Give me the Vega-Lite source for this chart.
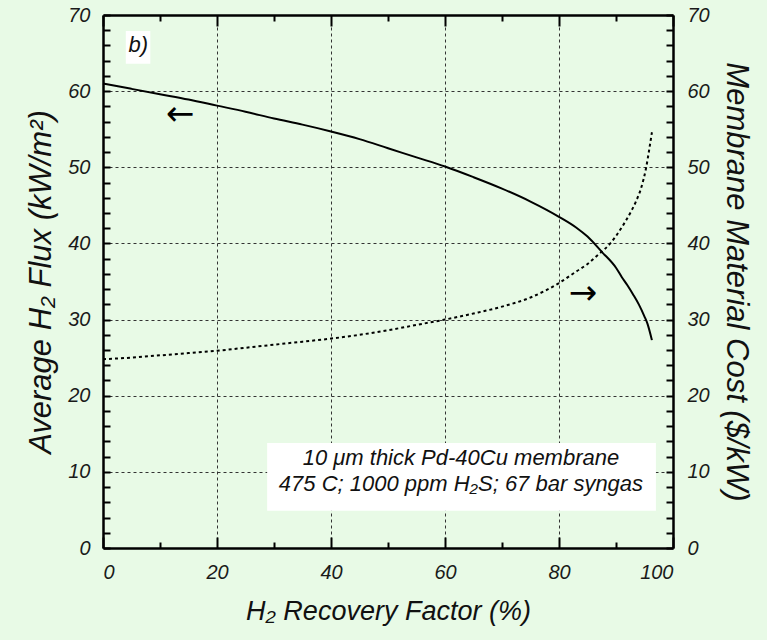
{
  "$schema": "https://vega.github.io/schema/vega-lite/v6.json",
  "width": 570,
  "height": 533,
  "autosize": {"type": "none"},
  "padding": {"left": 103, "top": 15, "right": 94, "bottom": 92},
  "background": "#e8fae6",
  "config": {
    "view": {"stroke": null},
    "font": "Liberation Sans",
    "axis": {
      "domainColor": "#000000",
      "domainWidth": 2.5,
      "tickColor": "#000000",
      "tickWidth": 2,
      "labelFont": "Liberation Sans",
      "labelFontStyle": "italic",
      "labelFontSize": 20,
      "labelColor": "#1a1a1a",
      "titleFont": "Liberation Sans",
      "titleFontStyle": "italic",
      "titleFontWeight": "normal",
      "titleFontSize": 31,
      "titleColor": "#111111",
      "gridColor": "#333333",
      "gridDash": [3, 3],
      "gridWidth": 1
    }
  },
  "datasets": {
    "flux": [
      {"x": 0, "y": 61.0},
      {"x": 5, "y": 60.3},
      {"x": 10, "y": 59.6},
      {"x": 15, "y": 58.9},
      {"x": 20, "y": 58.1},
      {"x": 25, "y": 57.3},
      {"x": 30, "y": 56.4},
      {"x": 35, "y": 55.6},
      {"x": 40, "y": 54.7},
      {"x": 45, "y": 53.7},
      {"x": 50, "y": 52.5},
      {"x": 55, "y": 51.3},
      {"x": 60, "y": 50.1},
      {"x": 65, "y": 48.7},
      {"x": 70, "y": 47.2},
      {"x": 75, "y": 45.5},
      {"x": 80, "y": 43.5},
      {"x": 83, "y": 42.1},
      {"x": 85, "y": 40.9},
      {"x": 87.5, "y": 38.9},
      {"x": 90, "y": 36.8},
      {"x": 91, "y": 35.6},
      {"x": 92, "y": 34.5},
      {"x": 93, "y": 33.3},
      {"x": 94, "y": 32.0},
      {"x": 95, "y": 30.4},
      {"x": 95.5, "y": 29.5},
      {"x": 96.3, "y": 27.3}
    ],
    "cost": [
      {"recovery": 0, "cost": 24.8},
      {"recovery": 5, "cost": 25.0},
      {"recovery": 10, "cost": 25.3},
      {"recovery": 15, "cost": 25.6},
      {"recovery": 20, "cost": 25.9},
      {"recovery": 25, "cost": 26.3},
      {"recovery": 30, "cost": 26.7},
      {"recovery": 35, "cost": 27.1},
      {"recovery": 40, "cost": 27.5},
      {"recovery": 45, "cost": 28.0},
      {"recovery": 50, "cost": 28.6},
      {"recovery": 55, "cost": 29.3},
      {"recovery": 60, "cost": 30.0},
      {"recovery": 65, "cost": 30.8},
      {"recovery": 70, "cost": 31.7},
      {"recovery": 75, "cost": 32.9},
      {"recovery": 80, "cost": 34.8},
      {"recovery": 83, "cost": 36.3},
      {"recovery": 85, "cost": 37.3},
      {"recovery": 87, "cost": 38.6},
      {"recovery": 89, "cost": 40.0},
      {"recovery": 91, "cost": 42.1},
      {"recovery": 92.5, "cost": 44.0},
      {"recovery": 93.5, "cost": 45.5},
      {"recovery": 94.5, "cost": 47.5},
      {"recovery": 95.3, "cost": 50.0},
      {"recovery": 95.8, "cost": 52.2},
      {"recovery": 96.3, "cost": 54.6}
    ],
    "boxes": [
      {"x": 28.8, "x2": 97.0, "y": 4.9, "y2": 13.8},
      {"x": 4.0, "x2": 8.3, "y": 63.6, "y2": 67.9}
    ],
    "notes": [
      {"x": 62.8, "y": 11.8, "text": "10 μm thick Pd-40Cu membrane"},
      {"x": 62.8, "y": 8.4, "text": "475 C; 1000 ppm H₂S; 67 bar syngas"},
      {"x": 6.2, "y": 66.0, "text": "b)"}
    ],
    "arrows": [
      {"x": 13.5, "y": 56.9, "text": "←"},
      {"x": 84.2, "y": 33.4, "text": "→"}
    ]
  },
  "layer": [
    {
      "encoding": {
        "x": {
          "field": "x", "type": "quantitative",
          "scale": {"domain": [0, 100], "nice": false, "zero": false},
          "axis": {
            "orient": "bottom",
            "values": [0, 10, 20, 30, 40, 50, 60, 70, 80, 90, 100],
            "labelExpr": "datum.value % 20 === 0 ? datum.label : ''",
            "grid": true,
            "gridOpacity": {"condition": {"test": "datum.value % 20 === 0 && datum.value > 0 && datum.value < 100", "value": 1}, "value": 0},
            "tickSize": {"condition": {"test": "datum.value % 20 === 0", "value": -11}, "value": -6},
            "labelPadding": 25,
            "title": "H₂ Recovery Factor (%)",
            "titleFontSize": 27,
            "titlePadding": 16
          }
        },
        "y": {
          "field": "y", "type": "quantitative",
          "scale": {"domain": [0, 70], "nice": false, "zero": true},
          "axis": {
            "orient": "left",
            "values": [0, 2, 4, 6, 8, 10, 12, 14, 16, 18, 20, 22, 24, 26, 28, 30, 32, 34, 36, 38, 40, 42, 44, 46, 48, 50, 52, 54, 56, 58, 60, 62, 64, 66, 68, 70],
            "labelExpr": "datum.value % 10 === 0 ? datum.label : ''",
            "grid": true,
            "gridOpacity": {"condition": {"test": "datum.value % 10 === 0 && datum.value > 0 && datum.value < 70", "value": 1}, "value": 0},
            "tickSize": -7,
            "labelPadding": 20,
            "title": "Average H₂ Flux (kW/m²)",
            "titlePadding": 10
          }
        }
      },
      "layer": [
        {
          "data": {"name": "flux"},
          "mark": {"type": "line", "color": "#000000", "strokeWidth": 2, "interpolate": "monotone"}
        },
        {
          "data": {"name": "boxes"},
          "mark": {"type": "rect", "fill": "#ffffff"},
          "encoding": {
            "x2": {"field": "x2"},
            "y2": {"field": "y2"}
          }
        },
        {
          "data": {"name": "notes"},
          "mark": {"type": "text", "font": "Liberation Sans", "fontStyle": "italic", "fontSize": 22, "color": "#111111", "align": "center", "baseline": "middle"},
          "encoding": {
            "text": {"field": "text"}
          }
        },
        {
          "data": {"name": "arrows"},
          "mark": {"type": "text", "font": "DejaVu Sans", "fontSize": 34, "color": "#000000", "align": "center", "baseline": "middle"},
          "encoding": {
            "text": {"field": "text"}
          }
        }
      ]
    },
    {
      "data": {"name": "cost"},
      "mark": {"type": "line", "color": "#000000", "strokeWidth": 2, "strokeDash": [3, 3], "interpolate": "monotone"},
      "encoding": {
        "x": {
          "field": "recovery", "type": "quantitative",
          "scale": {"domain": [0, 100], "nice": false, "zero": false},
          "axis": {
            "orient": "top",
            "values": [0, 10, 20, 30, 40, 50, 60, 70, 80, 90, 100],
            "labels": false,
            "grid": false,
            "tickSize": {"condition": {"test": "datum.value % 20 === 0", "value": -11}, "value": -6},
            "title": null
          }
        },
        "y": {
          "field": "cost", "type": "quantitative",
          "scale": {"domain": [0, 70], "nice": false, "zero": true},
          "axis": {
            "orient": "right",
            "values": [0, 2, 4, 6, 8, 10, 12, 14, 16, 18, 20, 22, 24, 26, 28, 30, 32, 34, 36, 38, 40, 42, 44, 46, 48, 50, 52, 54, 56, 58, 60, 62, 64, 66, 68, 70],
            "labelExpr": "datum.value % 10 === 0 ? datum.label : ''",
            "grid": false,
            "tickSize": -7,
            "labelPadding": 21,
            "title": "Membrane Material Cost ($/kW)",
            "titlePadding": 10
          }
        }
      }
    }
  ],
  "resolve": {"scale": {"x": "independent", "y": "independent"}}
}
